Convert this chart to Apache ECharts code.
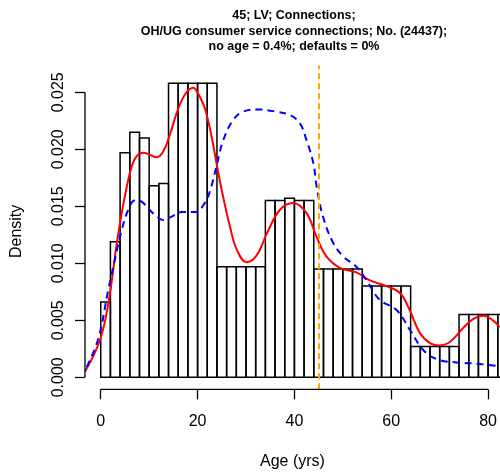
<!DOCTYPE html>
<html>
<head>
<meta charset="utf-8">
<script src="https://cdn.jsdelivr.net/npm/echarts@6/dist/echarts.min.js"></script>
<style>html,body{margin:0;padding:0;background:#fff;}#c{width:500px;height:475px;}</style>
</head>
<body>
<div id="c"></div>
<script>
// ---- data ----
const titleLines = ['45; LV; Connections;', 'OH/UG consumer service connections; No. (24437);', 'no age = 0.4%; defaults = 0%'];
const xTicks = [0, 20, 40, 60, 80];
const yTicks = [0, 0.005, 0.010, 0.015, 0.020, 0.025];
const yTickLabels = ['0.000', '0.005', '0.010', '0.015', '0.020', '0.025'];
const binWidth = 2;
const binStarts = [0,2,4,6,8,10,12,14,16,18,20,22,24,26,28,30,32,34,36,38,40,42,44,46,48,50,52,54,56,58,60,62,64,66,68,70,72,74,76,78,80,82];
const binDensity = [0.0066,0.0119,0.0197,0.0215,0.0210,0.0168,0.0170,
  0.0258,0.0258,0.0258,0.0258,0.0258,
  0.0097,0.0097,0.0097,0.0097,0.0097,
  0.0155,0.0155,0.0157,0.0155,0.0155,
  0.0095,0.0095,0.0095,0.0095,0.0095,
  0.0080,0.0080,0.0080,0.0080,0.0080,
  0.0027,0.0027,0.0027,0.0027,0.0027,
  0.0055,0.0055,0.0055,0.0055,0.0055];
const redAge = [-3.24,-0.14,1.57,3.3,4.33,5.37,6.4,7.43,8.8,10.2,11.55,12.9,14.3,15.7,17.4,19.1,20.1,21.5,22.9,23.9,25.0,26.7,28.1,30.1,32.2,34.3,37.0,39.75,42.5,44.6,46.6,49.4,52.8,55.6,59.0,61.8,63.8,65.9,68.0,69.7,72.1,74.8,76.9,79.0,81.0,82.4];
const redDensity = [0.0005,0.0033,0.0065,0.0117,0.0144,0.0167,0.0185,0.0194,0.0197,0.0195,0.0193,0.0198,0.0213,0.0232,0.0248,0.0254,0.0249,0.0236,0.0211,0.0188,0.0164,0.0132,0.0112,0.0101,0.0107,0.0126,0.0147,0.0153,0.0144,0.0123,0.0106,0.0096,0.0092,0.0085,0.0080,0.0074,0.0059,0.0039,0.0030,0.0028,0.0031,0.0043,0.0051,0.0054,0.0050,0.0044];
const blueAge = [-2.9,-0.5,1.57,2.6,4.33,5.7,7.08,8.46,9.8,11.9,12.9,14.65,16.7,19.5,21.5,22.6,23.9,25.3,27.4,29.4,32.2,36.3,39.1,41.1,42.5,43.9,44.6,45.9,48.0,50.1,52.8,54.9,57.6,61.1,63.8,66.6,69.4,73.5,77.6,81.7];
const blueDensity = [0.0009,0.0034,0.0077,0.0097,0.0129,0.0147,0.0155,0.0154,0.0148,0.0140,0.0138,0.0141,0.0145,0.0145,0.0153,0.0164,0.0185,0.0208,0.0226,0.0233,0.0235,0.0233,0.0230,0.0223,0.0208,0.0188,0.0167,0.0141,0.0118,0.0106,0.0097,0.0085,0.0068,0.0059,0.0042,0.0024,0.0016,0.0013,0.0012,0.0010];
const refAge = 45;
const xAxisName = 'Age (yrs)';
const yAxisName = 'Density';

// ---- axis limits ----
const xMin = -3.25, xMax = 82.45;
const yMin = -0.00105, yMax = 0.02735;

const FONT = '"Liberation Sans", Arial, Helvetica, sans-serif';
const zip = (a, b) => a.map((v, i) => [v, b[i]]);
const histData = binStarts.map((s, i) => [s, s + binWidth, binDensity[i]]);

const chart = echarts.init(document.getElementById('c'), null, {renderer: 'canvas'});
chart.setOption({
  animation: false,
  backgroundColor: '#fff',
  title: {
    text: titleLines.join('\n'),
    left: 294, top: 8, padding: 0, textAlign: 'center',
    textStyle: {fontFamily: FONT, fontSize: 12.5, fontWeight: 'bold', lineHeight: 15.5, color: '#000'}
  },
  grid: {left: 85, right: 0, top: 65.5, bottom: 85.7, containLabel: false},
  xAxis: {
    type: 'value', min: xMin, max: xMax,
    name: xAxisName, nameLocation: 'middle', nameGap: 64,
    nameTextStyle: {fontFamily: FONT, fontSize: 16, color: '#000'},
    axisLine: {show: false, onZero: false},
    axisTick: {show: true, customValues: xTicks, length: 10, lineStyle: {color: '#000', width: 1.3}},
    axisLabel: {customValues: xTicks, margin: 24, fontFamily: FONT, fontSize: 16, color: '#000'},
    splitLine: {show: false}
  },
  yAxis: {
    type: 'value', min: yMin, max: yMax,
    name: yAxisName, nameLocation: 'middle', nameGap: 60, nameRotate: 90,
    nameTextStyle: {fontFamily: FONT, fontSize: 16, color: '#000', padding: [0, 0, 0, -8]},
    axisLine: {show: false, onZero: false},
    axisTick: {show: true, customValues: yTicks, length: 10, lineStyle: {color: '#000', width: 1.3}},
    axisLabel: {customValues: yTicks, rotate: 90, margin: 18, fontFamily: FONT, fontSize: 16, color: '#000',
      formatter: v => { const i = yTicks.findIndex(t => Math.abs(t - v) < 1e-9); return i >= 0 ? yTickLabels[i] : ''; }},
    splitLine: {show: false}
  },
  series: [
    {
      type: 'custom', name: 'hist', clip: true,
      renderItem: (params, api) => {
        const p0 = api.coord([api.value(0), api.value(2)]);
        const p1 = api.coord([api.value(1), 0]);
        return {type: 'rect', shape: {x: p0[0], y: p0[1], width: p1[0] - p0[0], height: p1[1] - p0[1]},
          style: {fill: 'none', stroke: '#000', lineWidth: 1.5}};
      },
      encode: {x: [0, 1], y: 2},
      data: histData, z: 2
    },
    {
      type: 'line', name: 'red', data: zip(redAge, redDensity), smooth: 0.4, showSymbol: false, clip: true,
      lineStyle: {color: '#ff0000', width: 2}, z: 3
    },
    {
      type: 'line', name: 'blue', data: zip(blueAge, blueDensity), smooth: 0.4, showSymbol: false, clip: true,
      lineStyle: {color: '#0000ff', width: 2, type: [7, 5]}, z: 4
    },
    {
      type: 'line', name: 'ref', data: [], showSymbol: false,
      markLine: {silent: true, symbol: ['none', 'none'], label: {show: false},
        lineStyle: {color: '#ffa500', width: 2, type: [6, 4]},
        data: [{xAxis: refAge}]}, z: 5
    },
    {
      type: 'line', name: 'xaxisline', data: [[xTicks[0], yMin], [xTicks[xTicks.length - 1], yMin]],
      showSymbol: false, clip: false, lineStyle: {color: '#000', width: 1.3}, z: 6
    },
    {
      type: 'line', name: 'yaxisline', data: [[xMin, yTicks[0]], [xMin, yTicks[yTicks.length - 1]]],
      showSymbol: false, clip: false, lineStyle: {color: '#000', width: 1.3}, z: 6
    }
  ]
});
</script>
</body>
</html>
